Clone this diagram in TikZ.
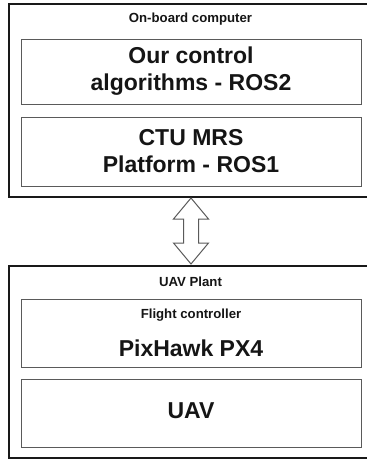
\documentclass[tikz,border=0pt]{standalone}
\usepackage{fontspec}
\setmainfont{Liberation Sans}
\usetikzlibrary{calc}
\definecolor{innergray}{HTML}{5A5A5A}
\definecolor{txt}{HTML}{151515}
\tikzset{
  outerbox/.style={draw=black!90, line width=1.3pt, fill=white, rectangle, inner sep=0pt},
  innerbox/.style={draw=innergray, line width=1pt, rectangle, inner sep=0pt, minimum width=340pt},
  bigtext/.style={font=\bfseries\fontsize{23}{27}\selectfont, text=txt, align=center, inner sep=0pt},
  smalltext/.style={font=\bfseries\fontsize{13.2}{15}\selectfont, text=txt, inner sep=0pt},
  linkarrow/.style={draw=innergray, line width=1pt, fill=white, line join=miter}
}
\begin{document}
\begin{tikzpicture}[x=1pt,y=-1pt]
\useasboundingbox (0,0) rectangle (367,459);
\clip (0,0) rectangle (367,459);
% top group
\node[outerbox, minimum width=363pt, minimum height=193pt] (obc) at (190.5,100.5) {};
\node[smalltext] (obct) at (190.5,19) {On-board computer};
\node[innerbox, minimum height=65pt] (ctrl) at (191,71.5) {};
\node[bigtext] (ctrlt) at (191,71.5) {Our control\\algorithms - ROS2};
\node[innerbox, minimum height=69pt] (mrs) at (191,151.5) {};
\node[bigtext] (mrst) at (191,151.5) {CTU MRS\\Platform - ROS1};
% bottom group
\node[outerbox, minimum width=363pt, minimum height=192pt] (plant) at (190.5,362) {};
\node[smalltext] (plantt) at (190.5,282) {UAV Plant};
\node[innerbox, minimum height=68pt] (fc) at (191,333) {};
\node[smalltext] (fct) at (191,315) {Flight controller};
\node[bigtext] (fcpx) at (191,348) {PixHawk PX4};
\node[innerbox, minimum height=68pt] (uav) at (191,413) {};
\node[bigtext] (uavt) at (191,411) {UAV};
% double block arrow between groups
\coordinate (at) at (191,198);
\coordinate (ab) at (191,264);
\draw[linkarrow] (at) -- ++(17.5,21) -- ++(-10,0) -- ($(ab)+(7.5,-21)$) -- ++(10,0) -- (ab)
  -- ++(-17.5,-21) -- ++(10,0) -- ($(at)+(-7.5,21)$) -- ++(-10,0) -- cycle;
\end{tikzpicture}
\end{document}
